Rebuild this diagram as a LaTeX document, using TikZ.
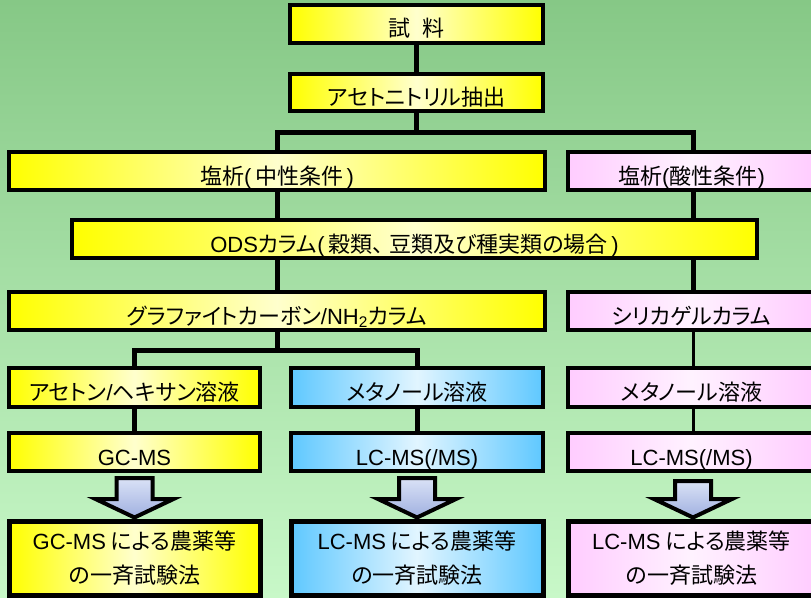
\documentclass[tikz,border=0pt]{standalone}
\usepackage{fontspec}
\setmainfont{Noto Sans CJK JP}[RawFeature=+palt]
\newfontfamily\lat{Liberation Sans}
\usetikzlibrary{calc}
\pgfdeclarelayer{bgl}
\pgfdeclarelayer{wires}
\pgfsetlayers{bgl,wires,main}
\definecolor{bgtop}{RGB}{134,200,134}
\definecolor{bgbot}{RGB}{200,248,200}
\definecolor{yel}{RGB}{255,255,0}
\definecolor{yelmid}{RGB}{255,255,205}
\definecolor{pnk}{RGB}{255,204,255}
\definecolor{pnkmid}{RGB}{255,242,255}
\definecolor{blu}{RGB}{95,200,255}
\definecolor{blumid}{RGB}{225,245,255}
\definecolor{arrtop}{RGB}{218,226,246}
\definecolor{arrbot}{RGB}{160,176,224}
\tikzset{
  box/.style={draw=black, line width=4pt, inner sep=0pt, align=center,
    font=\fontsize{22}{26}\selectfont, text=black, text height=26pt, text depth=0pt},
  finalbox/.style={draw=black, line width=5pt, inner sep=0pt, align=center,
    font=\fontsize{22}{34}\selectfont, text=black},
  yfill/.style={left color=yel, right color=yel, middle color=yelmid},
  pfill/.style={left color=pnk, right color=pnk, middle color=pnkmid},
  bfill/.style={left color=blu, right color=blu, middle color=blumid},
  wire/.style={draw=black, line width=5pt},
  thinwire/.style={draw=black, line width=3pt},
  bigarrow/.style={draw=black, line width=4pt, line join=miter,
    top color=arrtop, bottom color=arrbot}
}
\begin{document}
\begin{tikzpicture}[x=1pt, y=-1pt]
\useasboundingbox (0,0) rectangle (811,597);
\begin{pgfonlayer}{bgl}
\fill[top color=bgtop, bottom color=bgbot] (0,0) rectangle (811,597);
\end{pgfonlayer}
% nodes
\node[box, yfill, minimum width=253, minimum height=38] (b1) at (416.5,23.5) {試\hspace{12pt}料};
\node[box, yfill, minimum width=253, minimum height=37] (b2) at (416.5,92.5) {アセトニトリル抽出};
\node[box, yfill, minimum width=536, minimum height=38] (neu) at (277,171) {塩析{\lat(\,}中性条件{\lat\,)}};
\node[box, pfill, minimum width=247, minimum height=38] (acid) at (691.5,171) {塩析{\lat(}酸性条件{\lat)}};
\node[box, yfill, minimum width=685, minimum height=38] (ods) at (414.5,239) {{\lat ODS}カラム{\lat(\,}穀類、\hspace{6pt}豆類及び種実類の場合{\lat\,)}};
\node[box, yfill, minimum width=536, minimum height=38] (graf) at (277,311) {グラファイトカーボン{\lat /NH\textsubscript{2}}カラム};
\node[box, pfill, minimum width=247, minimum height=38] (sil) at (691.5,311) {シリカゲルカラム};
\node[box, yfill, minimum width=251, minimum height=39] (r5a) at (134.5,387.5) {アセトン{\lat /}ヘキサン溶液};
\node[box, bfill, minimum width=252, minimum height=39] (r5b) at (417,387.5) {メタノール溶液};
\node[box, pfill, minimum width=247, minimum height=39] (r5c) at (691.5,387.5) {メタノール溶液};
\node[box, yfill, minimum width=251, minimum height=38] (r6a) at (134.5,452) {\lat GC-MS};
\node[box, bfill, minimum width=252, minimum height=38] (r6b) at (417,452) {\lat LC-MS(/MS)};
\node[box, pfill, minimum width=247, minimum height=38] (r6c) at (691.5,452) {\lat LC-MS(/MS)};
\node[finalbox, yfill, minimum width=251, minimum height=74] (fa) at (134.5,558) {{\lat GC-MS} による農薬等\\の一斉試験法};
\node[finalbox, bfill, minimum width=252, minimum height=74] (fb) at (417,558) {{\lat LC-MS} による農薬等\\の一斉試験法};
\node[finalbox, pfill, minimum width=247, minimum height=74] (fc) at (691.5,558) {{\lat LC-MS} による農薬等\\の一斉試験法};
% coordinates
\coordinate (j1) at (418,132);
\coordinate (ax) at (693,0);
\coordinate (j2) at (277,350);
% wires
\begin{pgfonlayer}{wires}
\draw[wire] (b1.center) -- (b2.center);
\draw[wire] (b2.center) -- (b2.center |- j1);
\draw[wire] (neu.center) |- (j1) -| (ax |- acid.center);
\draw[wire] (neu.center) -- (graf.center);
\draw[wire] (ax |- acid.center) -- (ax |- sil.center);
\draw[wire] (graf.center) -- (j2);
\draw[wire] (r5a.center) |- (j2) -| (r5b.center);
\draw[wire] (r5a.center) -- (r6a.center);
\draw[wire] (r5b.center) -- (r6b.center);
\draw[thinwire] (ax |- sil.center) -- (ax |- r5c.center);
\draw[thinwire] (ax |- r5c.center) -- (ax |- r6c.center);
\end{pgfonlayer}
% block arrows
\path[bigarrow] ($(r6a.south)+(-18,5)$) -- ($(r6a.south)+(18,5)$) -- ($(r6a.south)+(18,26)$) -- ($(r6a.south)+(39,26)$) -- ($(fa.north)+(0,-1)$) -- ($(r6a.south)+(-39,26)$) -- ($(r6a.south)+(-18,26)$) -- cycle;
\path[bigarrow] ($(r6b.south)+(-18,5)$) -- ($(r6b.south)+(18,5)$) -- ($(r6b.south)+(18,26)$) -- ($(r6b.south)+(39,26)$) -- ($(fb.north)+(0,-1)$) -- ($(r6b.south)+(-39,26)$) -- ($(r6b.south)+(-18,26)$) -- cycle;
\path[bigarrow] ($(ax |- r6c.south)+(-18,8)$) -- ($(ax |- r6c.south)+(18,8)$) -- ($(ax |- r6c.south)+(18,26)$) -- ($(ax |- r6c.south)+(39,26)$) -- ($(ax |- fc.north)+(0,-1)$) -- ($(ax |- r6c.south)+(-39,26)$) -- ($(ax |- r6c.south)+(-18,26)$) -- cycle;
\end{tikzpicture}
\end{document}
